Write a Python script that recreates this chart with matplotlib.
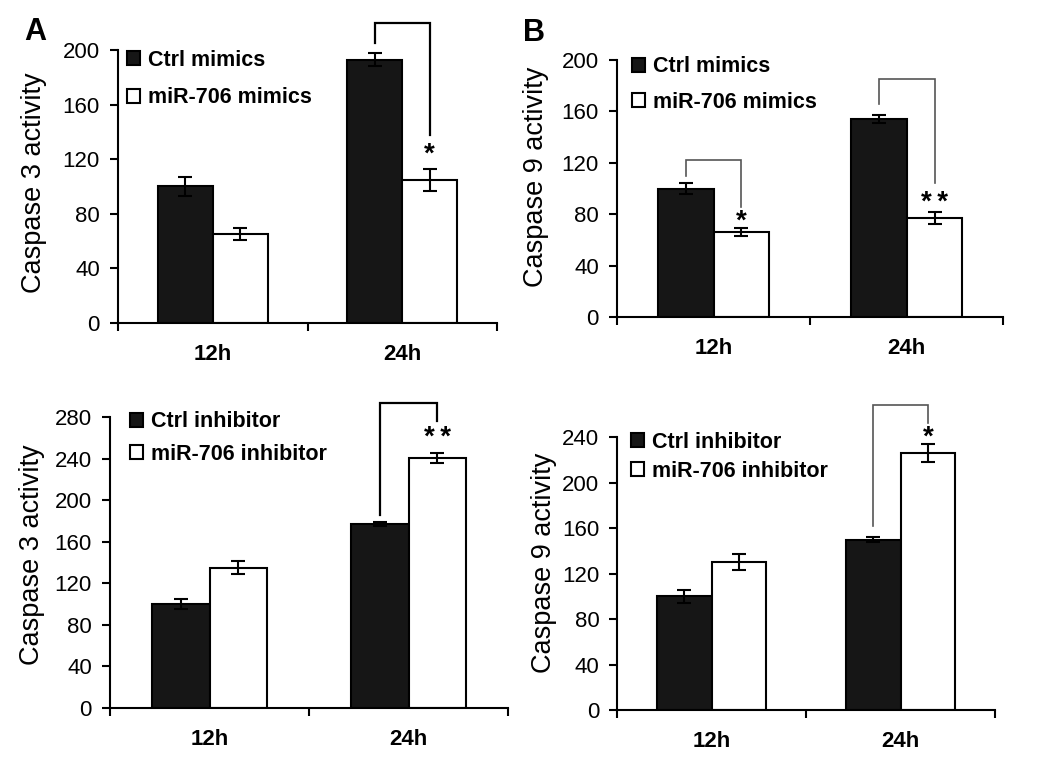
import numpy as np
import matplotlib
matplotlib.use("Agg")
import matplotlib.pyplot as plt

plt.rcParams['font.family'] = ['Liberation Sans', 'DejaVu Sans']

# data
hours = ['12h', '24h']

# A top: caspase 3, mimics
a_ctrl = [100, 193]
a_ctrl_err = [7, 5]
a_mir = [65, 105]
a_mir_err = [4.5, 8]

# B top: caspase 9, mimics
b_ctrl = [100, 154]
b_ctrl_err = [4, 3]
b_mir = [66, 77]
b_mir_err = [3, 4.5]

# A bottom: caspase 3, inhibitor
c_ctrl = [100, 177]
c_ctrl_err = [5, 2]
c_mir = [135, 241]
c_mir_err = [6.5, 5]

# B bottom: caspase 9, inhibitor
d_ctrl = [100, 150]
d_ctrl_err = [5.5, 2.5]
d_mir = [130, 226]
d_mir_err = [7, 8]

mimic_labels = ['Ctrl mimics', 'miR-706 mimics']
inhib_labels = ['Ctrl inhibitor', 'miR-706 inhibitor']

W = 0.29
TWO = '*\u2009*'


def panel(ax, ctrl, ctrl_err, mir, mir_err, labels, ylabel, ymax,
          brackets, bcolor, blw, leg_anchor, leg_space, ylab_xy):
    x = np.arange(len(hours)) + 0.5
    b1 = ax.bar(x - W / 2, ctrl, W, color='#161616', edgecolor='black',
                linewidth=1.5, yerr=ctrl_err,
                error_kw=dict(ecolor='black', elinewidth=1.5, capsize=5, capthick=1.5))
    b2 = ax.bar(x + W / 2, mir, W, color='white', edgecolor='black',
                linewidth=1.5, yerr=mir_err,
                error_kw=dict(ecolor='black', elinewidth=1.5, capsize=5, capthick=1.5))
    ax.set_xlim(0, 2)
    ax.set_ylim(0, ymax)
    ax.set_yticks(np.arange(0, ymax + 1, 40))
    ax.set_xticks([0, 1, 2])
    ax.set_xticklabels([])
    ax.set_xticks(x, minor=True)
    ax.set_xticklabels(hours, minor=True, fontsize=16, fontweight='bold')
    ax.tick_params(axis='x', which='minor', length=0, pad=15)
    ax.tick_params(axis='x', which='major', length=6, width=1.5, direction='out')
    ax.tick_params(axis='y', length=6, width=1.5, labelsize=16, pad=7)
    for s in ['top', 'right']:
        ax.spines[s].set_visible(False)
    for s in ['left', 'bottom']:
        ax.spines[s].set_linewidth(1.5)
    ax.set_ylabel(ylabel, fontsize=19.5)
    ax.yaxis.set_label_coords(*ylab_xy)

    for g, ytop, yl, yr, star, ys in brackets:
        xl = x[g] - W / 2
        xr = x[g] + W / 2
        ax.plot([xl, xl, xr, xr], [yl, ytop, ytop, yr], color=bcolor,
                lw=blw, clip_on=False, solid_joinstyle='miter')
        ax.text(xr, ys, star, ha='center', va='center', fontsize=20,
                fontweight='bold', clip_on=False)

    ax.legend([b1, b2], labels, loc='upper left', bbox_to_anchor=leg_anchor,
              frameon=False, prop=dict(weight='bold', size=15.5),
              handlelength=0.62, handleheight=0.62, handletextpad=0.35,
              labelspacing=leg_space, borderpad=0, borderaxespad=0)


fig = plt.figure(figsize=(10.47, 7.63), dpi=100)
axA = fig.add_axes([0.1127, 0.5767, 0.362, 0.3578])
axB = fig.add_axes([0.5893, 0.5845, 0.3687, 0.3368])
axC = fig.add_axes([0.1051, 0.0725, 0.3801, 0.3806])
axD = fig.add_axes([0.5896, 0.0695, 0.3607, 0.3574])

panel(axA, a_ctrl, a_ctrl_err, a_mir, a_mir_err, mimic_labels,
      'Caspase 3 activity', 200,
      [(1, 219.6, 205, 138, '*', 123)], 'black', 1.6,
      (0.024, 1.0), 0.75, (-0.187, 0.513))
panel(axB, b_ctrl, b_ctrl_err, b_mir, b_mir_err, mimic_labels,
      'Caspase 9 activity', 200,
      [(0, 122, 110, 86, '*', 74), (1, 185, 166, 104.5, TWO, 89)], '#555555', 1.2,
      (0.038, 1.015), 0.68, (-0.176, 0.545))
panel(axC, c_ctrl, c_ctrl_err, c_mir, c_mir_err, inhib_labels,
      'Caspase 3 activity', 280,
      [(1, 294, 186, 276, TWO, 260)], 'black', 1.6,
      (0.05, 1.02), 0.52, (-0.163, 0.526))
panel(axD, d_ctrl, d_ctrl_err, d_mir, d_mir_err, inhib_labels,
      'Caspase 9 activity', 240,
      [(1, 268.5, 162, 253, '*', 240)], '#555555', 1.2,
      (0.036, 1.02), 0.38, (-0.16, 0.539))

fig.text(24 / 1047, 1 - 32 / 763, 'A', fontsize=22, fontweight='bold', va='center', ha='left')
fig.text(523 / 1047, 1 - 33 / 763, 'B', fontsize=22, fontweight='bold', va='center', ha='left')

fig.savefig('out.png', dpi=100)
